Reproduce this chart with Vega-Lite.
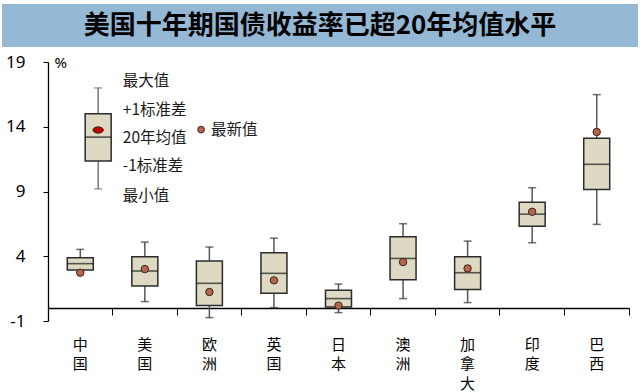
{
  "$schema": "https://vega.github.io/schema/vega-lite/v6.json",
  "background": "white",
  "padding": {"left": 2, "top": 4, "right": 0, "bottom": 0},
  "config": {"view": {"stroke": null}, "font": "Noto Sans CJK SC"},
  "datasets": {
    "boxes": [
      {"country": "中国", "max": 4.53, "hi": 3.89, "mean": 3.43, "lo": 2.93, "min": 2.8, "latest": 2.73},
      {"country": "美国", "max": 5.09, "hi": 3.97, "mean": 2.86, "lo": 1.7, "min": 0.5, "latest": 3.01},
      {"country": "欧洲", "max": 4.71, "hi": 3.63, "mean": 1.91, "lo": 0.19, "min": -0.74, "latest": 1.24},
      {"country": "英国", "max": 5.4, "hi": 4.27, "mean": 2.68, "lo": 1.14, "min": 0.03, "latest": 2.14},
      {"country": "日本", "max": 1.85, "hi": 1.37, "mean": 0.73, "lo": 0.08, "min": -0.35, "latest": 0.19},
      {"country": "澳洲", "max": 6.51, "hi": 5.51, "mean": 3.83, "lo": 2.19, "min": 0.73, "latest": 3.55},
      {"country": "加拿大", "max": 5.17, "hi": 3.97, "mean": 2.73, "lo": 1.44, "min": 0.42, "latest": 3.06},
      {"country": "印度", "max": 9.29, "hi": 8.17, "mean": 7.25, "lo": 6.32, "min": 5.04, "latest": 7.43},
      {"country": "巴西", "max": 16.48, "hi": 13.11, "mean": 11.1, "lo": 9.15, "min": 6.46, "latest": 13.6}
    ],
    "legendBox": [
      {"pos": 0.712, "max": 17.0, "hi": 15.0, "mean": 13.2, "lo": 11.36, "min": 9.2, "latest": 13.75}
    ],
    "legendText": [
      {"pos": 1.1, "v": 17.5, "label": "最大值"},
      {"pos": 1.1, "v": 15.32, "label": "+1标准差"},
      {"pos": 1.1, "v": 13.16, "label": "20年均值"},
      {"pos": 1.1, "v": 10.95, "label": "-1标准差"},
      {"pos": 1.1, "v": 8.64, "label": "最小值"},
      {"pos": 2.49, "v": 13.78, "label": "最新值"}
    ],
    "legendDot": [
      {"pos": 2.334, "v": 13.78}
    ],
    "titleText": [
      {"t": "美国十年期国债收益率已超20年均值水平"}
    ]
  },
  "concat": [
    {
      "width": 636,
      "height": 43,
      "view": {"fill": "#95B9D5", "stroke": null},
      "data": {"name": "titleText"},
      "mark": {"type": "text", "fontSize": 26, "fontWeight": "bold", "color": "black", "font": "Noto Sans CJK SC"},
      "encoding": {"text": {"field": "t"}}
    },
    {
      "width": 627,
      "height": 259,
      "layer": [
        {
          "data": {"name": "boxes"},
          "encoding": {
            "x": {
              "field": "country", "type": "nominal", "sort": null,
              "scale": {"paddingInner": 0, "paddingOuter": 0, "range": [46, 627]},
              "axis": {
                "title": null, "labelAngle": 0, "offset": -13,
                "labelExpr": "split(datum.label, '')",
                "labelFontSize": 15, "labelLineHeight": 19.5, "labelColor": "black",
                "labelFont": "Noto Sans CJK SC", "labelBaseline": "top", "labelPadding": 22,
                "tickSize": 7, "tickColor": "black", "domainColor": "black", "domainWidth": 1.3,
                "bandPosition": 1, "tickExtra": true
              }
            }
          },
          "layer": [
            {
              "mark": {"type": "rule", "color": "#555555", "strokeWidth": 1.5},
              "encoding": {
                "y": {"field": "min", "type": "quantitative", "scale": {"domain": [-1, 19], "nice": false, "zero": false},
                  "axis": {
                    "values": [-1, 4, 9, 14, 19], "grid": false, "title": "%", "offset": -46,
                    "labelExpr": "'' + datum.value",
                    "titleAngle": 0, "titleX": 6, "titleY": 0, "titleAlign": "left", "titleBaseline": "middle",
                    "titleFontSize": 15, "titleFontWeight": "normal", "titleColor": "black", "titleFont": "Noto Sans",
                    "labelFontSize": 17, "labelColor": "black", "labelFont": "Noto Sans", "labelPadding": 18,
                    "tickSize": 5, "tickColor": "black", "domainColor": "black", "domainWidth": 1.3
                  }
                },
                "y2": {"field": "max"}
              }
            },
            {
              "mark": {"type": "tick", "color": "#333333", "size": 8, "thickness": 1.5},
              "encoding": {"y": {"field": "max", "type": "quantitative"}}
            },
            {
              "mark": {"type": "tick", "color": "#333333", "size": 8, "thickness": 1.5},
              "encoding": {"y": {"field": "min", "type": "quantitative"}}
            },
            {
              "mark": {"type": "bar", "width": 26, "fill": "#DDD9C3", "stroke": "#2b2b2b", "strokeWidth": 1.5},
              "encoding": {"y": {"field": "lo", "type": "quantitative"}, "y2": {"field": "hi"}}
            },
            {
              "mark": {"type": "tick", "color": "#1a1a1a", "size": 26, "thickness": 1.6},
              "encoding": {"y": {"field": "mean", "type": "quantitative"}}
            },
            {
              "mark": {"type": "point", "filled": true, "fill": "#B5654D", "stroke": "#3a2418", "strokeWidth": 1, "size": 55, "opacity": 1},
              "encoding": {"y": {"field": "latest", "type": "quantitative"}}
            }
          ]
        },
        {
          "layer": [
            {
              "data": {"name": "legendBox"},
              "encoding": {
                "x": {"field": "pos", "type": "quantitative", "scale": {"domain": [0, 9], "nice": false, "zero": false, "range": [46, 627]}, "axis": null}
              },
              "layer": [
                {
                  "mark": {"type": "rule", "color": "#777777", "strokeWidth": 1.5},
                  "encoding": {"y": {"field": "min", "type": "quantitative"}, "y2": {"field": "max"}}
                },
                {
                  "mark": {"type": "tick", "orient": "horizontal", "color": "#777777", "size": 8, "thickness": 1.5},
                  "encoding": {"y": {"field": "max", "type": "quantitative"}}
                },
                {
                  "mark": {"type": "tick", "orient": "horizontal", "color": "#777777", "size": 8, "thickness": 1.5},
                  "encoding": {"y": {"field": "min", "type": "quantitative"}}
                },
                {
                  "mark": {"type": "bar", "size": 26, "fill": "#DDD9C3", "stroke": "#2b2b2b", "strokeWidth": 1.5},
                  "encoding": {"y": {"field": "lo", "type": "quantitative"}, "y2": {"field": "hi"}}
                },
                {
                  "mark": {"type": "tick", "orient": "horizontal", "color": "#1a1a1a", "size": 26, "thickness": 1.6},
                  "encoding": {"y": {"field": "mean", "type": "quantitative"}}
                },
                {
                  "mark": {"type": "point", "filled": true, "fill": "#C00000", "stroke": "#3a2418", "strokeWidth": 1, "size": 110, "opacity": 1,
                    "shape": "M -1 0 A 1 0.6 0 1 1 1 0 A 1 0.6 0 1 1 -1 0 Z"},
                  "encoding": {"y": {"field": "latest", "type": "quantitative"}}
                }
              ]
            },
            {
              "data": {"name": "legendDot"},
              "mark": {"type": "point", "filled": true, "fill": "#B5654D", "stroke": "#3a2418", "strokeWidth": 1, "size": 45, "opacity": 1},
              "encoding": {
                "x": {"field": "pos", "type": "quantitative", "axis": null},
                "y": {"field": "v", "type": "quantitative"}
              }
            },
            {
              "data": {"name": "legendText"},
              "mark": {"type": "text", "align": "left", "baseline": "middle", "fontSize": 15.5, "color": "#1a1a1a", "font": "Noto Sans CJK SC"},
              "encoding": {
                "x": {"field": "pos", "type": "quantitative", "axis": null},
                "y": {"field": "v", "type": "quantitative"},
                "text": {"field": "label"}
              }
            }
          ]
        }
      ],
      "resolve": {"scale": {"x": "independent"}, "axis": {"x": "independent"}}
    }
  ],
  "columns": 1,
  "spacing": 6
}
